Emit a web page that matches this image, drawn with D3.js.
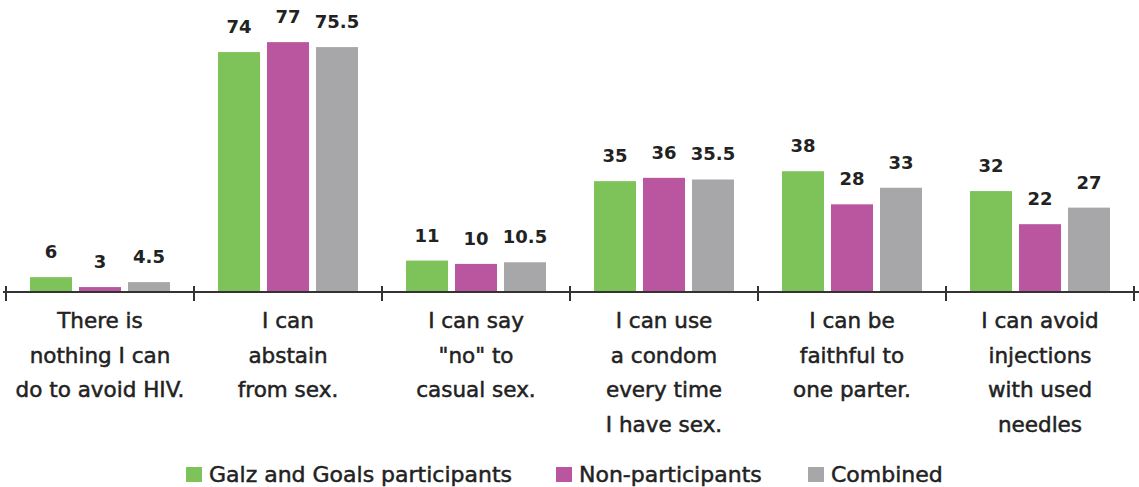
<!DOCTYPE html>
<html>
<head>
<meta charset="utf-8">
<script src="https://cdn.jsdelivr.net/npm/d3@7"></script>
<style>
  html, body { margin: 0; padding: 0; background: #fff; }
  svg { display: block; }
</style>
</head>
<body>
<svg id="chart" width="1139" height="487"></svg>
<script>
// Statements about HIV prevention (each category label split into lines)
const categories = [
  ["There is", "nothing I can", "do to avoid HIV."],
  ["I can", "abstain", "from sex."],
  ["I can say", "\"no\" to", "casual sex."],
  ["I can use", "a condom", "every time", "I have sex."],
  ["I can be", "faithful to", "one parter."],
  ["I can avoid", "injections", "with used", "needles"]
];
const seriesNames = ["Galz and Goals participants", "Non-participants", "Combined"];
const participants    = [6, 74, 11, 35, 38, 32];
const nonParticipants = [3, 77, 10, 36, 28, 22];
const combined        = [4.5, 75.5, 10.5, 35.5, 33, 27];
const colors = ["#7dc35a", "#b9569f", "#a7a7a9"];

const seriesValues = [participants, nonParticipants, combined];
const catKeys = categories.map(c => c.join(" "));

const svg = d3.select("#chart");
const axisY = 292;

const x0 = d3.scaleBand().domain(catKeys).range([6, 1134]).paddingInner(0).paddingOuter(0);
const x1 = d3.scaleBand().domain(seriesNames).range([24, 164]).paddingInner(0.143).paddingOuter(0);
const y = d3.scaleLinear().domain([0, 80]).range([297, 32.2]);

const rows = [];
catKeys.forEach((c, i) => {
  seriesNames.forEach((s, j) => {
    rows.push({ cat: c, series: s, value: seriesValues[j][i], color: colors[j] });
  });
});

// Bars
const g = svg.append("g");
g.selectAll("rect.bar")
  .data(rows)
  .join("rect")
  .attr("class", "bar")
  .attr("x", d => x0(d.cat) + x1(d.series))
  .attr("y", d => y(d.value))
  .attr("width", x1.bandwidth())
  .attr("height", d => axisY - y(d.value))
  .attr("fill", d => d.color);

// Value labels
g.selectAll("text.val")
  .data(rows)
  .join("text")
  .attr("class", "val")
  .attr("x", d => x0(d.cat) + x1(d.series) + x1.bandwidth() / 2)
  .attr("y", d => y(d.value) - 19)
  .attr("text-anchor", "middle")
  .attr("font-family", "DejaVu Sans, sans-serif")
  .attr("font-weight", "bold")
  .attr("font-size", 18)
  .attr("fill", "#222")
  .text(d => d.value);

// Category axis
const axis = svg.append("g");
axis.append("line")
  .attr("x1", 3).attr("x2", 1139)
  .attr("y1", axisY).attr("y2", axisY)
  .attr("stroke", "#333").attr("stroke-width", 2);

const tickXs = catKeys.map(c => x0(c)).concat([x0.range()[1]]);
axis.selectAll("line.tick")
  .data(tickXs)
  .join("line")
  .attr("class", "tick")
  .attr("x1", d => d).attr("x2", d => d)
  .attr("y1", axisY - 6).attr("y2", axisY + 9)
  .attr("stroke", "#333").attr("stroke-width", 2);

const labels = axis.selectAll("text.cat")
  .data(categories)
  .join("text")
  .attr("class", "cat")
  .attr("x", (d, i) => x0(catKeys[i]) + x0.bandwidth() / 2)
  .attr("y", 328)
  .attr("text-anchor", "middle")
  .attr("font-family", "DejaVu Sans, sans-serif")
  .attr("font-size", 21.5)
  .attr("fill", "#222")
  .attr("stroke", "#222")
  .attr("stroke-width", 0.5);

labels.selectAll("tspan")
  .data((d, i) => d.map(t => ({ t, x: x0(catKeys[i]) + x0.bandwidth() / 2 })))
  .join("tspan")
  .attr("x", d => d.x)
  .attr("dy", (d, k) => k === 0 ? 0 : 34.5)
  .text(d => d.t);

// Legend
const legendX = d3.scaleOrdinal().domain(seriesNames).range([186, 556, 808]);
const legend = svg.append("g");
const items = legend.selectAll("g.item")
  .data(seriesNames)
  .join("g")
  .attr("class", "item")
  .attr("transform", d => `translate(${legendX(d)},0)`);
items.append("rect")
  .attr("x", 0).attr("y", 467)
  .attr("width", 16).attr("height", 15)
  .attr("fill", (d, i) => colors[i]);
items.append("text")
  .attr("x", 23).attr("y", 482)
  .attr("font-family", "DejaVu Sans, sans-serif")
  .attr("font-size", 22)
  .attr("fill", "#222")
  .attr("stroke", "#222")
  .attr("stroke-width", 0.5)
  .text(d => d);
</script>
</body>
</html>
